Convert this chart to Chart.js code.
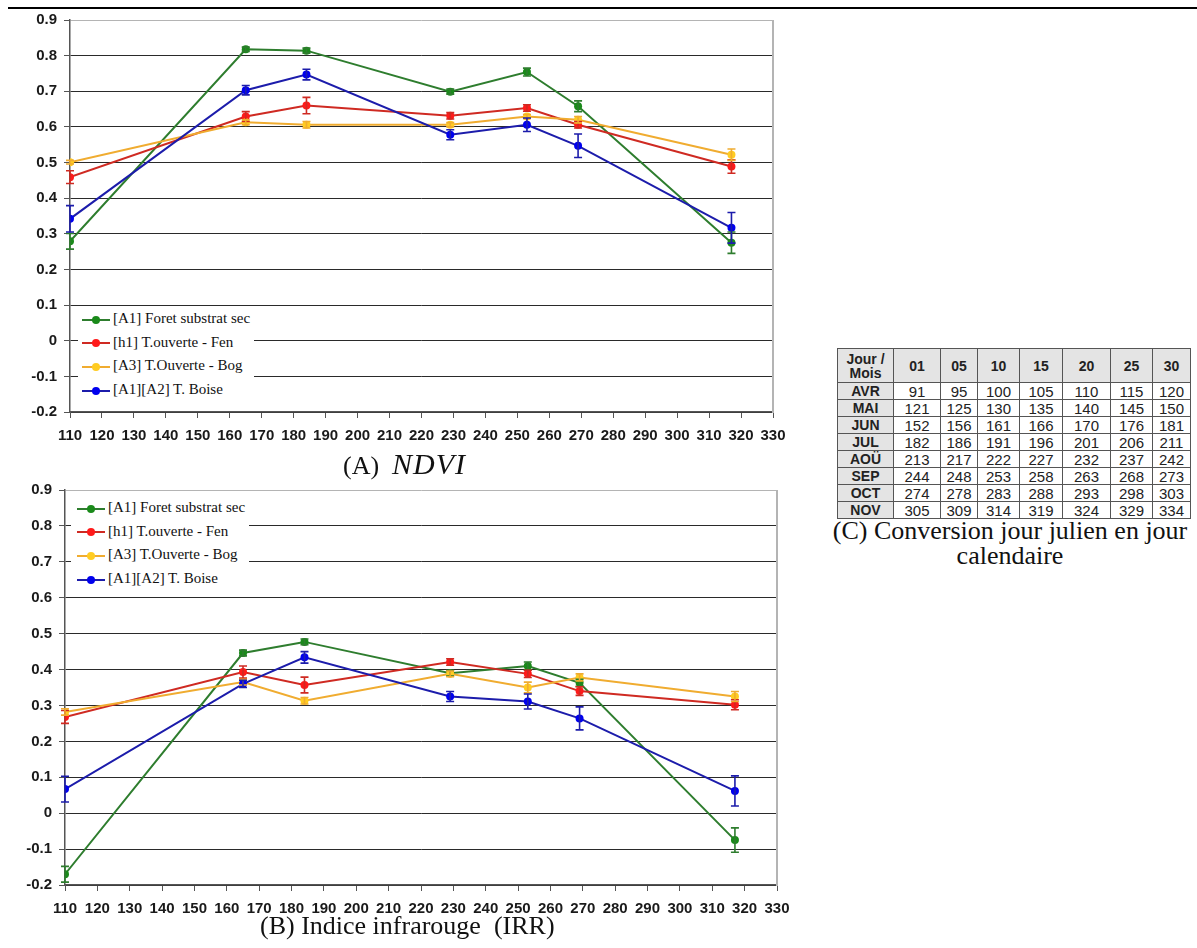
<!DOCTYPE html>
<html>
<head>
<meta charset="utf-8">
<script src="https://cdn.jsdelivr.net/npm/chart.js@4/dist/chart.umd.min.js"></script>
<style>
  body { margin: 0; background: #fff; width: 1197px; height: 948px; position: relative; overflow: hidden; }
  canvas { position: absolute; left: 0; }
  #rule { position: absolute; left: 8px; right: 0; top: 7px; height: 2px; background: #000; }
  .legend { position: absolute; background: #fff; font-family: "Liberation Serif", "Times New Roman", serif; font-size: 15px; color: #111; }
  .legend .item { position: relative; height: 23.7px; line-height: 23.7px; white-space: nowrap; }
  .legend .sample { display: inline-block; position: relative; width: 28px; height: 2px; vertical-align: middle; margin-right: 3px; }
  .legend .dot { position: absolute; left: 10px; top: -3px; width: 8px; height: 8px; border-radius: 50%; }
  .caption { position: absolute; font-family: "Liberation Serif", "Times New Roman", serif; color: #111; white-space: nowrap; }
  #tableC { position: absolute; left: 837px; top: 348px; width: 353px; table-layout: fixed; border-collapse: collapse; font-family: "Liberation Sans", Arial, sans-serif; color: #222; }
  #tableC td, #tableC th { border: 1px solid #555; padding: 0; text-align: center; overflow: hidden; }
  #tableC th { background: #e4e4e4; font-weight: bold; font-size: 14px; }
  #tableC thead th { height: 33px; line-height: 14px; }
  #tableC tbody th { height: 16px; line-height: 15px; }
  #tableC td { font-size: 15px; height: 16px; line-height: 15px; }
</style>
</head>
<body>
<div id="rule"></div>
<canvas id="ndviChart" width="800" height="447" style="top:0"></canvas>
<canvas id="irrChart" width="800" height="460" style="top:460px"></canvas>
<div class="legend" id="legendA" style="left:78px; top:307px; width:172px; padding-left:4px;"></div>
<div class="legend" id="legendB" style="left:71px; top:496px; width:172px; padding-left:6px;"></div>
<div class="caption" style="left:343px; top:449px; font-size:26px; line-height:30px;">(A)&nbsp; <i style="font-size:30px; letter-spacing:1px">NDVI</i></div>
<div class="caption" style="left:260px; top:911px; font-size:26px; line-height:30px;">(B) Indice infrarouge&nbsp; (IRR)</div>
<div class="caption" style="left:820px; top:518px; width:380px; text-align:center; font-size:26px; line-height:25px;">(C) Conversion jour julien en jour<br>calendaire</div>
<table id="tableC"></table>

<script>
// julian days of the acquisitions
const days = [110, 165, 184, 229, 253, 269, 317];

const seriesNames = ['[A1] Foret substrat sec', '[h1] T.ouverte - Fen', '[A3] T.Ouverte - Bog', '[A1][A2] T. Boise'];
const lineColors = ['#2e7d2e', '#cf2a22', '#f0ac30', '#1c1cab'];
const markerColors = ['#1a8a1a', '#ff1a1a', '#ffcc22', '#0000ee'];

// (A) NDVI
const ndviForet = [0.279, 0.818, 0.814, 0.699, 0.754, 0.658, 0.275];
const ndviForetErr = [0.022, 0.006, 0.007, 0.007, 0.011, 0.015, 0.030];
const ndviFen = [0.459, 0.629, 0.660, 0.631, 0.653, 0.606, 0.489];
const ndviFenErr = [0.018, 0.014, 0.023, 0.009, 0.009, 0.009, 0.019];
const ndviBog = [0.501, 0.613, 0.606, 0.606, 0.629, 0.620, 0.522];
const ndviBogErr = [0.005, 0.007, 0.009, 0.006, 0.006, 0.009, 0.016];
const ndviBoise = [0.342, 0.703, 0.747, 0.578, 0.606, 0.547, 0.317];
const ndviBoiseErr = [0.037, 0.013, 0.015, 0.014, 0.019, 0.033, 0.043];

// (B) IRR
const irrForet = [-0.170, 0.446, 0.477, 0.390, 0.410, 0.363, -0.075];
const irrForetErr = [0.022, 0.008, 0.008, 0.008, 0.011, 0.010, 0.034];
const irrFen = [0.268, 0.393, 0.357, 0.421, 0.388, 0.340, 0.302];
const irrFenErr = [0.018, 0.017, 0.022, 0.009, 0.010, 0.012, 0.014];
const irrBog = [0.282, 0.365, 0.313, 0.388, 0.350, 0.378, 0.325];
const irrBogErr = [0.009, 0.008, 0.009, 0.008, 0.015, 0.010, 0.014];
const irrBoise = [0.067, 0.360, 0.434, 0.325, 0.311, 0.264, 0.062];
const irrBoiseErr = [0.036, 0.010, 0.016, 0.014, 0.021, 0.032, 0.042];

const xTickLabels = ['110','120','130','140','150','160','170','180','190','200','210','220',
                     '230','240','250','260','270','280','290','300','310','320','330'];
const yTickLabels = ['-0.2','-0.1','0','0.1','0.2','0.3','0.4','0.5','0.6','0.7','0.8','0.9'];

// (C) conversion table
const tableCols = ['01', '05', '10', '15', '20', '25', '30'];
const tableMonths = ['AVR', 'MAI', 'JUN', 'JUL', 'AOÜ', 'SEP', 'OCT', 'NOV'];
const tableDays = [
  [91, 95, 100, 105, 110, 115, 120],
  [121, 125, 130, 135, 140, 145, 150],
  [152, 156, 161, 166, 170, 176, 181],
  [182, 186, 191, 196, 201, 206, 211],
  [213, 217, 222, 227, 232, 237, 242],
  [244, 248, 253, 258, 263, 268, 273],
  [274, 278, 283, 288, 293, 298, 303],
  [305, 309, 314, 319, 324, 329, 334]
];
const colWidths = [56, 47, 37, 42, 43, 48, 42, 38];

// draws vertical error bars from dataset.errors through the scales
const errorBars = {
  id: 'errorBars',
  afterDatasetsDraw(chart) {
    const ctx = chart.ctx;
    const xs = chart.scales.x, ys = chart.scales.y;
    chart.data.datasets.forEach((ds, i) => {
      if (!ds.errors) return;
      ctx.save();
      ctx.strokeStyle = ds.borderColor;
      ctx.lineWidth = 1.6;
      ds.data.forEach((p, j) => {
        const x = xs.getPixelForValue(p.x);
        const y1 = ys.getPixelForValue(p.y + ds.errors[j]);
        const y2 = ys.getPixelForValue(p.y - ds.errors[j]);
        ctx.beginPath();
        ctx.moveTo(x, y1); ctx.lineTo(x, y2);
        ctx.moveTo(x - 4, y1); ctx.lineTo(x + 4, y1);
        ctx.moveTo(x - 4, y2); ctx.lineTo(x + 4, y2);
        ctx.stroke();
      });
      ctx.restore();
    });
  }
};

// gray frame on the right side of the plot area
const rightFrame = {
  id: 'rightFrame',
  beforeDatasetsDraw(chart) {
    const { ctx, chartArea } = chart;
    ctx.save();
    ctx.strokeStyle = '#b4b4b4';
    ctx.lineWidth = 2;
    ctx.beginPath();
    ctx.moveTo(chartArea.right, chartArea.top);
    ctx.lineTo(chartArea.right, chartArea.bottom + 1);
    ctx.stroke();
    ctx.restore();
  }
};

function makeDatasets(values, errors) {
  return values.map((vals, i) => ({
    label: seriesNames[i],
    data: days.map((d, j) => ({ x: d, y: vals[j] })),
    errors: errors[i],
    borderColor: lineColors[i],
    backgroundColor: markerColors[i],
    pointBackgroundColor: markerColors[i],
    pointBorderWidth: 0,
    pointRadius: 4,
    borderWidth: 2,
    tension: 0,
    order: 3 - i
  }));
}

function makeChart(id, values, errors, yWidth, rightPad, topPad) {
  const tickFont = { family: 'Arial, "Liberation Sans", sans-serif', size: 15, weight: 'bold' };
  return new Chart(document.getElementById(id).getContext('2d'), {
    type: 'line',
    data: { datasets: makeDatasets(values, errors) },
    options: {
      responsive: false,
      animation: false,
      layout: { padding: { top: topPad, right: rightPad, left: 0, bottom: 0 } },
      plugins: { legend: { display: false }, tooltip: { enabled: false } },
      scales: {
        x: {
          type: 'linear',
          min: 110, max: 330,
          ticks: { stepSize: 10, font: tickFont, color: '#1a1a1a', padding: 9, maxRotation: 0, autoSkip: false,
                   callback: (v, i) => xTickLabels[i] },
          grid: { drawOnChartArea: false, drawTicks: true, tickLength: 6, color: '#555' },
          border: { color: '#555', width: 1.5 },
          afterFit: s => { s.height = 35; }
        },
        y: {
          min: -0.2, max: 0.9,
          ticks: { stepSize: 0.1, font: tickFont, color: '#1a1a1a', padding: 7,
                   callback: (v, i) => yTickLabels[i] },
          grid: {
            color: c => (c.tick && c.tick.value > 0.85) ? '#b4b4b4' : '#2a2a2a',
            tickColor: '#555', tickLength: 6, lineWidth: 1
          },
          border: { color: '#555', width: 1.5 },
          afterFit: s => { s.width = yWidth; }
        }
      }
    },
    plugins: [rightFrame, errorBars]
  });
}

function buildLegend(chart, el) {
  chart.data.datasets.forEach(ds => {
    const item = document.createElement('div');
    item.className = 'item';
    const sample = document.createElement('span');
    sample.className = 'sample';
    sample.style.background = ds.borderColor;
    const dot = document.createElement('span');
    dot.className = 'dot';
    dot.style.background = ds.pointBackgroundColor;
    sample.appendChild(dot);
    item.appendChild(sample);
    item.appendChild(document.createTextNode(ds.label));
    el.appendChild(item);
  });
}

const ndviChart = makeChart('ndviChart',
  [ndviForet, ndviFen, ndviBog, ndviBoise],
  [ndviForetErr, ndviFenErr, ndviBogErr, ndviBoiseErr], 70, 27, 20);
const irrChart = makeChart('irrChart',
  [irrForet, irrFen, irrBog, irrBoise],
  [irrForetErr, irrFenErr, irrBogErr, irrBoiseErr], 65, 23, 30);

buildLegend(ndviChart, document.getElementById('legendA'));
buildLegend(irrChart, document.getElementById('legendB'));

// conversion table
const table = document.getElementById('tableC');
let html = '<colgroup>';
colWidths.forEach(w => { html += '<col style="width:' + w + 'px">'; });
html += '</colgroup><thead><tr><th>Jour /<br>Mois</th>';
tableCols.forEach(c => { html += '<th>' + c + '</th>'; });
html += '</tr></thead><tbody>';
tableMonths.forEach((m, r) => {
  html += '<tr><th>' + m + '</th>';
  tableDays[r].forEach(v => { html += '<td>' + v + '</td>'; });
  html += '</tr>';
});
html += '</tbody>';
table.innerHTML = html;
</script>
</body>
</html>
